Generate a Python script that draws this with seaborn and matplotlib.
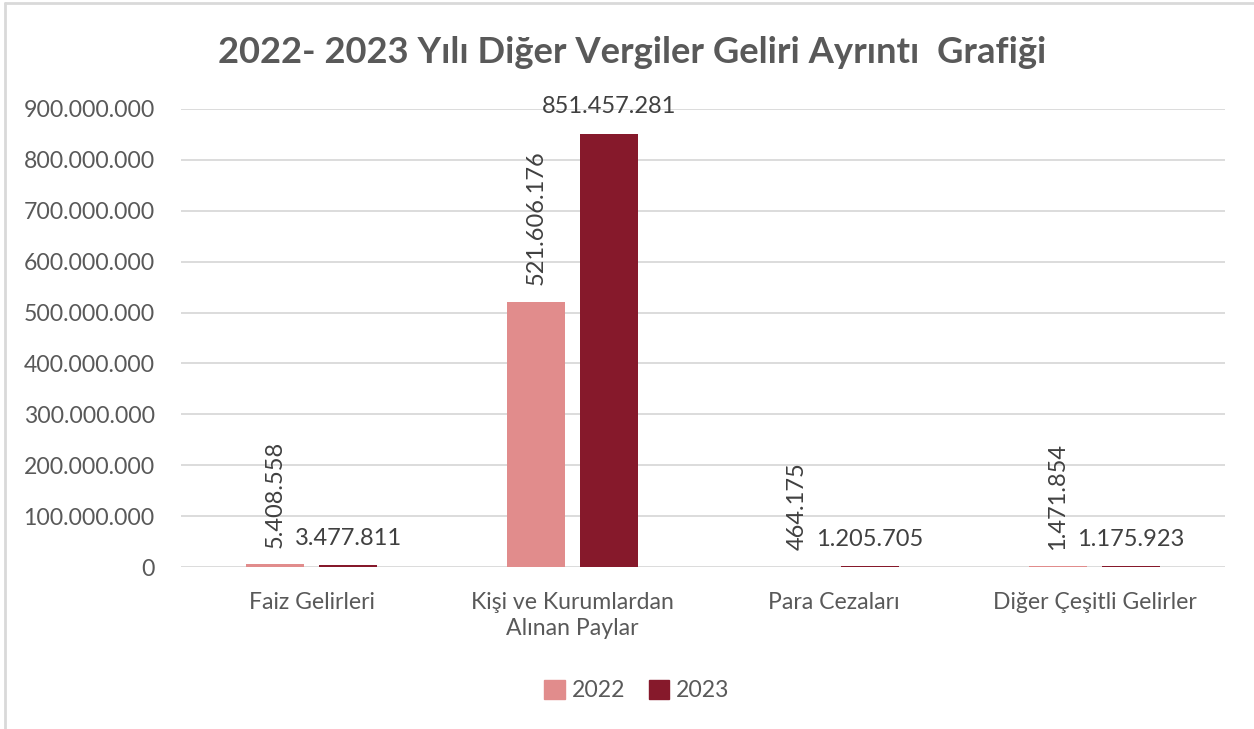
import pandas as pd
import seaborn as sns
import matplotlib.pyplot as plt
from matplotlib.lines import Line2D
from matplotlib.ticker import FuncFormatter

# data
kategoriler = ["Faiz Gelirleri", "Kişi ve Kurumlardan\nAlınan Paylar", "Para Cezaları", "Diğer Çeşitli Gelirler"]
yillar = ["2022", "2023"]
gelir_2022 = [5408558, 521606176, 464175, 1471854]
gelir_2023 = [3477811, 851457281, 1205705, 1175923]
renkler = ["#E18C8C", "#86192B"]

df = pd.DataFrame({
    "kategori": kategoriler * 2,
    "yil": [yillar[0]] * 4 + [yillar[1]] * 4,
    "deger": gelir_2022 + gelir_2023,
})

def tr_format(v):
    return f"{int(round(v)):,}".replace(",", ".")

sns.set_theme(style="white")
plt.rcParams['font.family'] = ['Lato', 'DejaVu Sans']

fig = plt.figure(figsize=(12.54, 7.29), dpi=100)
ax = fig.add_axes([0.1443, 0.2222, 0.8326, 0.6283])

sns.barplot(data=df, x="kategori", y="deger", hue="yil", palette=renkler,
            width=0.56, gap=0.2, saturation=1, linewidth=0, ax=ax, legend=False)

ax.set_ylim(0, 900000000)
ax.set_xlim(-0.5, 3.5)
ax.set_yticks(range(0, 900000001, 100000000))
ax.yaxis.set_major_formatter(FuncFormatter(lambda v, p: tr_format(v)))
ax.grid(axis="y", color="#d9d9d9", linewidth=1.3)
ax.set_axisbelow(True)
for s in ax.spines.values():
    s.set_visible(False)
ax.tick_params(axis="y", length=0, pad=19, labelsize=16.6, labelcolor="#595959")
ax.tick_params(axis="x", length=0, pad=18, labelsize=16.6, labelcolor="#595959")
for t in ax.get_xticklabels():
    t.set_linespacing(1.3)
ax.set_xlabel("")
ax.set_ylabel("")

# data labels: 2022 vertical, 2023 horizontal
ax.bar_label(ax.containers[0], labels=[tr_format(v) for v in gelir_2022],
             padding=12, rotation=90, fontsize=17, color="#404040")
ax.bar_label(ax.containers[1], labels=[tr_format(v) for v in gelir_2023],
             padding=12, fontsize=17, color="#404040")

fig.suptitle("2022- 2023 Yılı Diğer Vergiler Geliri Ayrıntı  Grafiği", x=0.504, y=0.95,
             fontsize=26.2, fontweight="bold", color="#595959")

handles = [plt.Rectangle((0, 0), 1, 1, color=c) for c in renkler]
fig.legend(handles, yillar, loc="center", bbox_to_anchor=(0.508, 0.053), ncol=2,
           frameon=False, fontsize=16.6, handlelength=0.9, handleheight=0.9,
           handletextpad=0.3, columnspacing=1.0, labelcolor="#595959")

# chart frame (left and top edge visible)
fig.add_artist(Line2D([0.004, 0.004], [0, 0.996], color="#d9d9d9", lw=2, transform=fig.transFigure))
fig.add_artist(Line2D([0.004, 1], [0.996, 0.996], color="#d9d9d9", lw=2, transform=fig.transFigure))

fig.savefig("out.png", dpi=100)
